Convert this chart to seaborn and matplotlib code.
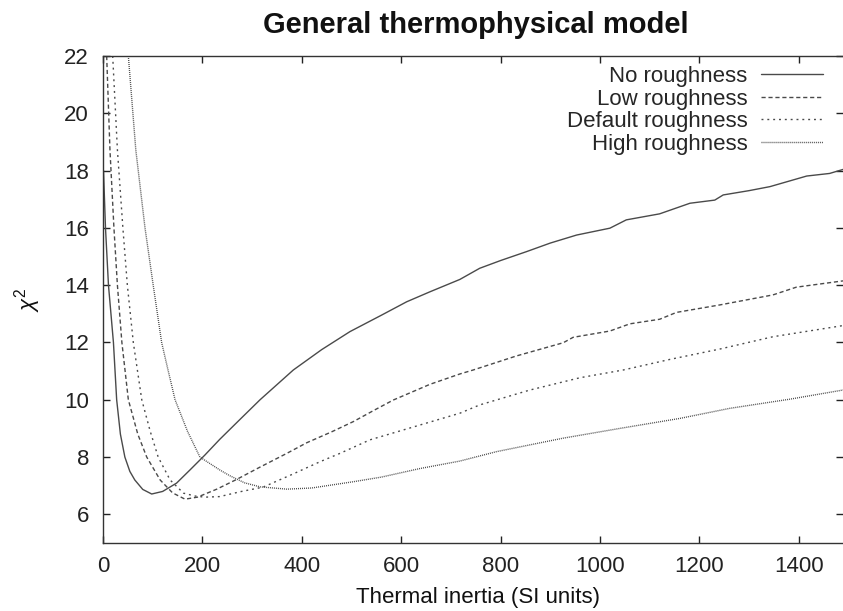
import numpy as np
import pandas as pd
import matplotlib
matplotlib.use("Agg")
import matplotlib.pyplot as plt
from matplotlib.lines import Line2D
import seaborn as sns

# ---------------- data ----------------
series_names = ["No roughness", "Low roughness", "Default roughness", "High roughness"]

x_no = [1, 5, 11, 21, 27.5, 35, 44, 54, 64, 80, 98, 120, 148, 175, 205, 235, 276, 316,
        383, 440, 497, 560, 611, 658, 718, 758, 800, 852, 900, 953, 1020, 1053, 1120,
        1181, 1231, 1248, 1300, 1342, 1416, 1462, 1489]
y_no = [18.0, 16.0, 14.0, 12.0, 10.0, 8.8, 8.0, 7.5, 7.2, 6.87, 6.71, 6.8, 7.09, 7.55,
        8.07, 8.62, 9.32, 10.0, 11.04, 11.75, 12.38, 12.95, 13.42, 13.77, 14.2, 14.59,
        14.86, 15.17, 15.47, 15.75, 15.99, 16.28, 16.49, 16.86, 16.97, 17.15, 17.3,
        17.44, 17.81, 17.9, 18.04]

x_low = [7.4, 14, 22, 29, 38, 51, 70, 88, 115, 140, 165, 190, 229, 269, 316, 370, 410,
         460, 504, 544, 584, 658, 718, 745, 832, 926, 946, 1020, 1060, 1120, 1154, 1241,
         1348, 1395, 1489]
y_low = [22, 18.72, 16, 14, 12, 10, 8.8, 8.0, 7.2, 6.75, 6.53, 6.6, 6.88, 7.22, 7.65,
         8.13, 8.5, 8.88, 9.24, 9.62, 9.99, 10.54, 10.90, 11.04, 11.53, 11.99, 12.18,
         12.40, 12.65, 12.81, 13.05, 13.31, 13.66, 13.93, 14.15]

x_def = [19.5, 29, 40, 49, 61, 78, 95, 111, 135, 162, 185, 205, 235, 276, 322, 380, 437,
         477, 537, 638, 718, 758, 859, 960, 1047, 1141, 1241, 1348, 1489]
y_def = [22, 18.72, 16, 14, 12, 10, 8.9, 8.0, 7.2, 6.74, 6.64, 6.60, 6.62, 6.79, 6.95,
         7.39, 7.84, 8.13, 8.6, 9.12, 9.53, 9.82, 10.34, 10.77, 11.04, 11.41, 11.77,
         12.20, 12.59]

x_high = [51, 66, 84.5, 101, 118, 130, 145, 170, 195, 235, 255, 285, 316, 370, 420, 504,
          560, 638, 718, 792, 926, 1040, 1161, 1261, 1382, 1489]
y_high = [22, 18.72, 16, 14, 12, 11.1, 10, 8.9, 8.0, 7.55, 7.35, 7.1, 6.96, 6.88, 6.92,
          7.14, 7.3, 7.6, 7.86, 8.19, 8.66, 9.0, 9.35, 9.70, 10.02, 10.34]

x_ticks = [0, 200, 400, 600, 800, 1000, 1200, 1400]
y_ticks = [6, 8, 10, 12, 14, 16, 18, 20, 22]

title = "General thermophysical model"
x_label = "Thermal inertia (SI units)"
y_label = r"$\chi^2$"

# ---------------- build table ----------------
frames = []
for name, xs, ys in zip(series_names, [x_no, x_low, x_def, x_high],
                        [y_no, y_low, y_def, y_high]):
    frames.append(pd.DataFrame({"x": xs, "y": ys, "series": name}))
df = pd.concat(frames, ignore_index=True)

# ---------------- style ----------------
sns.set_theme(style="ticks")
plt.rcParams["font.family"] = ["Liberation Sans", "DejaVu Sans"]
plt.rcParams["mathtext.fontset"] = "custom"
plt.rcParams["mathtext.rm"] = "Liberation Sans"
plt.rcParams["mathtext.it"] = "Liberation Sans:italic"

line_color = "#4a4a4a"
dash_map = {
    "No roughness": "",
    "Low roughness": (3.0, 2.0),
    "Default roughness": (1.4, 2.8),
    "High roughness": (0.7, 0.75),
}

fig = plt.figure(figsize=(8.43, 6.11), dpi=100)
W, H = 843, 611
ax = fig.add_axes([103 / W, 1 - 543 / H, (843 - 103) / W, (543 - 56) / H])

sns.lineplot(data=df, x="x", y="y", style="series", style_order=series_names,
             dashes=dash_map, color=line_color, linewidth=1.0, estimator=None,
             sort=True, legend=False, ax=ax)

ax.set_xlim(0, 1489)
ax.set_ylim(5, 22)
ax.set_xticks(x_ticks)
ax.set_yticks(y_ticks)
ax.tick_params(axis="both", which="major", direction="in", length=5, width=1,
               labelsize=16, colors="#222222", top=True, right=True, pad=9)
ax.tick_params(axis="y", pad=10)
for side in ["left", "bottom", "top"]:
    ax.spines[side].set_color("#333333")
    ax.spines[side].set_linewidth(1.0)
ax.spines["right"].set_visible(False)

ax.set_xlabel(x_label, fontsize=16, color="#111111")
ax.set_ylabel(y_label, fontsize=16, color="#111111")
ax.xaxis.set_label_coords((478 - 103) / (843 - 103), -(597 - 543) / (543 - 56))
ax.yaxis.set_label_coords(-(103 - 28) / (843 - 103), (543 - 300) / (543 - 56))
ax.xaxis.label.set_va("center")
ax.yaxis.label.set_va("center")

fig.text(476 / W, 1 - 25 / H, title, fontsize=21, fontweight="bold",
         ha="center", va="center", color="#111111")

handles = [Line2D([], [], color=line_color, linewidth=1.0,
                  linestyle="-" if dash_map[n] == "" else (0, dash_map[n]))
           for n in series_names]
leg = ax.legend(handles, series_names, loc="upper right",
                bbox_to_anchor=(823 / W, 1 - 66 / H), bbox_transform=fig.transFigure,
                frameon=False, markerfirst=False, fontsize=16, handlelength=2.8,
                handletextpad=0.6, labelspacing=0.07, borderpad=0, borderaxespad=0)

fig.savefig("out.png", dpi=100)
